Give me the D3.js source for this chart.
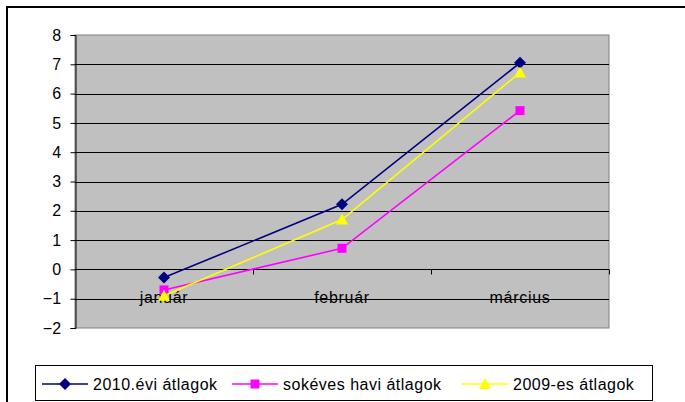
<!DOCTYPE html>
<html>
<meta charset="utf-8">
<head>
  <title>Havi átlagok</title>
</head>
<style>
body { margin: 0; background: white; }
text { font-family: Arial, "Liberation Sans", sans-serif; fill: black; }
</style>
<body>
<svg width="685" height="402"></svg>
<script src="https://cdnjs.cloudflare.com/ajax/libs/d3/7.8.5/d3.min.js"></script>
<script>
var months = ['január', 'február', 'március'];
var yTicks = [-2, -1, 0, 1, 2, 3, 4, 5, 6, 7, 8];
var names = ['2010.évi átlagok', 'sokéves havi átlagok', '2009-es átlagok'];
var colors = ['#000080', '#ff00ff', '#ffff00'];
var v2010 = [-0.28, 2.22, 7.05];
var vSok = [-0.7, 0.72, 5.42];
var v2009 = [-0.9, 1.7, 6.72];
var series = [v2010, vSok, v2009];

// diamond, square, triangle like the spreadsheet markers
function marker(k) {
  if (k === 0) return 'M0,-6L6,0L0,6L-6,0Z';
  if (k === 1) return 'M-4.5,-4.5H4.5V4.5H-4.5Z';
  return 'M0,-6L6,5L-6,5Z';
}

var svg = d3.select('svg');

// outer frame
svg.append('rect')
  .attr('x', 7).attr('y', 7).attr('width', 690).attr('height', 400)
  .attr('fill', 'white').attr('stroke', 'black').attr('stroke-width', 2);

var x = d3.scaleBand().domain(months).range([75, 609]);
var y = d3.scaleLinear().domain([-2, 8]).range([328, 35]);

svg.append('rect')
  .attr('x', 75).attr('y', 35).attr('width', 534).attr('height', 293)
  .attr('fill', '#c0c0c0').attr('stroke', '#808080');

svg.append('g')
  .selectAll('line')
  .data(yTicks.filter(function(d) { return d > -2 && d < 8; }))
  .enter()
  .append('line')
  .attr('x1', 75).attr('x2', 609)
  .attr('y1', function(d) { return Math.round(y(d)) + 0.5; })
  .attr('y2', function(d) { return Math.round(y(d)) + 0.5; })
  .attr('stroke', 'black');

// y axis
var yAxis = svg.append('g')
  .attr('transform', 'translate(75.5,0)')
  .call(d3.axisLeft(y).tickValues(yTicks).tickSize(5).tickPadding(9).tickFormat(d3.format('d')));
yAxis.select('.domain').attr('stroke', 'black');
yAxis.selectAll('.tick line').attr('stroke', 'black');
yAxis.selectAll('text').attr('font-size', 16).attr('fill', 'black')
  .attr('letter-spacing', 0.3)
  .attr('font-family', 'Arial, "Liberation Sans", sans-serif');

// category axis at zero
var xAxis = svg.append('g')
  .attr('transform', 'translate(0,' + (Math.round(y(0)) + 0.5) + ')');
xAxis.append('line').attr('x1', 75).attr('x2', 609).attr('stroke', 'black');
xAxis.selectAll('.tk')
  .data(months.slice(1).concat(['end']))
  .enter()
  .append('line')
  .attr('x1', function(d, i) { return Math.round(x.range()[0] + x.bandwidth() * (i + 1)) + 0.5; })
  .attr('x2', function(d, i) { return Math.round(x.range()[0] + x.bandwidth() * (i + 1)) + 0.5; })
  .attr('y1', 0).attr('y2', 5)
  .attr('stroke', 'black');
xAxis.selectAll('text')
  .data(months)
  .enter()
  .append('text')
  .attr('x', function(d) { return x(d) + x.bandwidth() / 2; })
  .attr('y', 33)
  .attr('text-anchor', 'middle')
  .attr('font-size', 16)
  .attr('letter-spacing', 0.7)
  .text(function(d) { return d; });

var line = d3.line()
  .x(function(d, i) { return x(months[i]) + x.bandwidth() / 2; })
  .y(function(d) { return y(d); });

series.forEach(function(s, k) {
  svg.append('path')
    .attr('d', line(s))
    .attr('fill', 'none')
    .attr('stroke', colors[k])
    .attr('stroke-width', 1.6);
  svg.selectAll('.m' + k)
    .data(s)
    .enter()
    .append('path')
    .attr('class', 'm' + k)
    .attr('transform', function(d, i) {
      return 'translate(' + (x(months[i]) + x.bandwidth() / 2) + ',' + y(d) + ')';
    })
    .attr('d', marker(k))
    .attr('fill', colors[k]);
});

// legend
var legend = svg.append('g');
legend.append('rect')
  .attr('x', 35.5).attr('y', 365.5).attr('width', 617).attr('height', 35)
  .attr('fill', 'white').attr('stroke', 'black');
var lx = [42, 232, 462];
names.forEach(function(n, k) {
  legend.append('line')
    .attr('x1', lx[k]).attr('x2', lx[k] + 46)
    .attr('y1', 384).attr('y2', 384)
    .attr('stroke', colors[k]).attr('stroke-width', 1.6);
  legend.append('path')
    .attr('transform', 'translate(' + (lx[k] + 23) + ',384)')
    .attr('d', marker(k))
    .attr('fill', colors[k]);
  legend.append('text')
    .attr('x', lx[k] + 51).attr('y', 390)
    .attr('font-size', 16)
    .attr('letter-spacing', 0.5)
    .text(n);
});
</script>
</body>
</html>
